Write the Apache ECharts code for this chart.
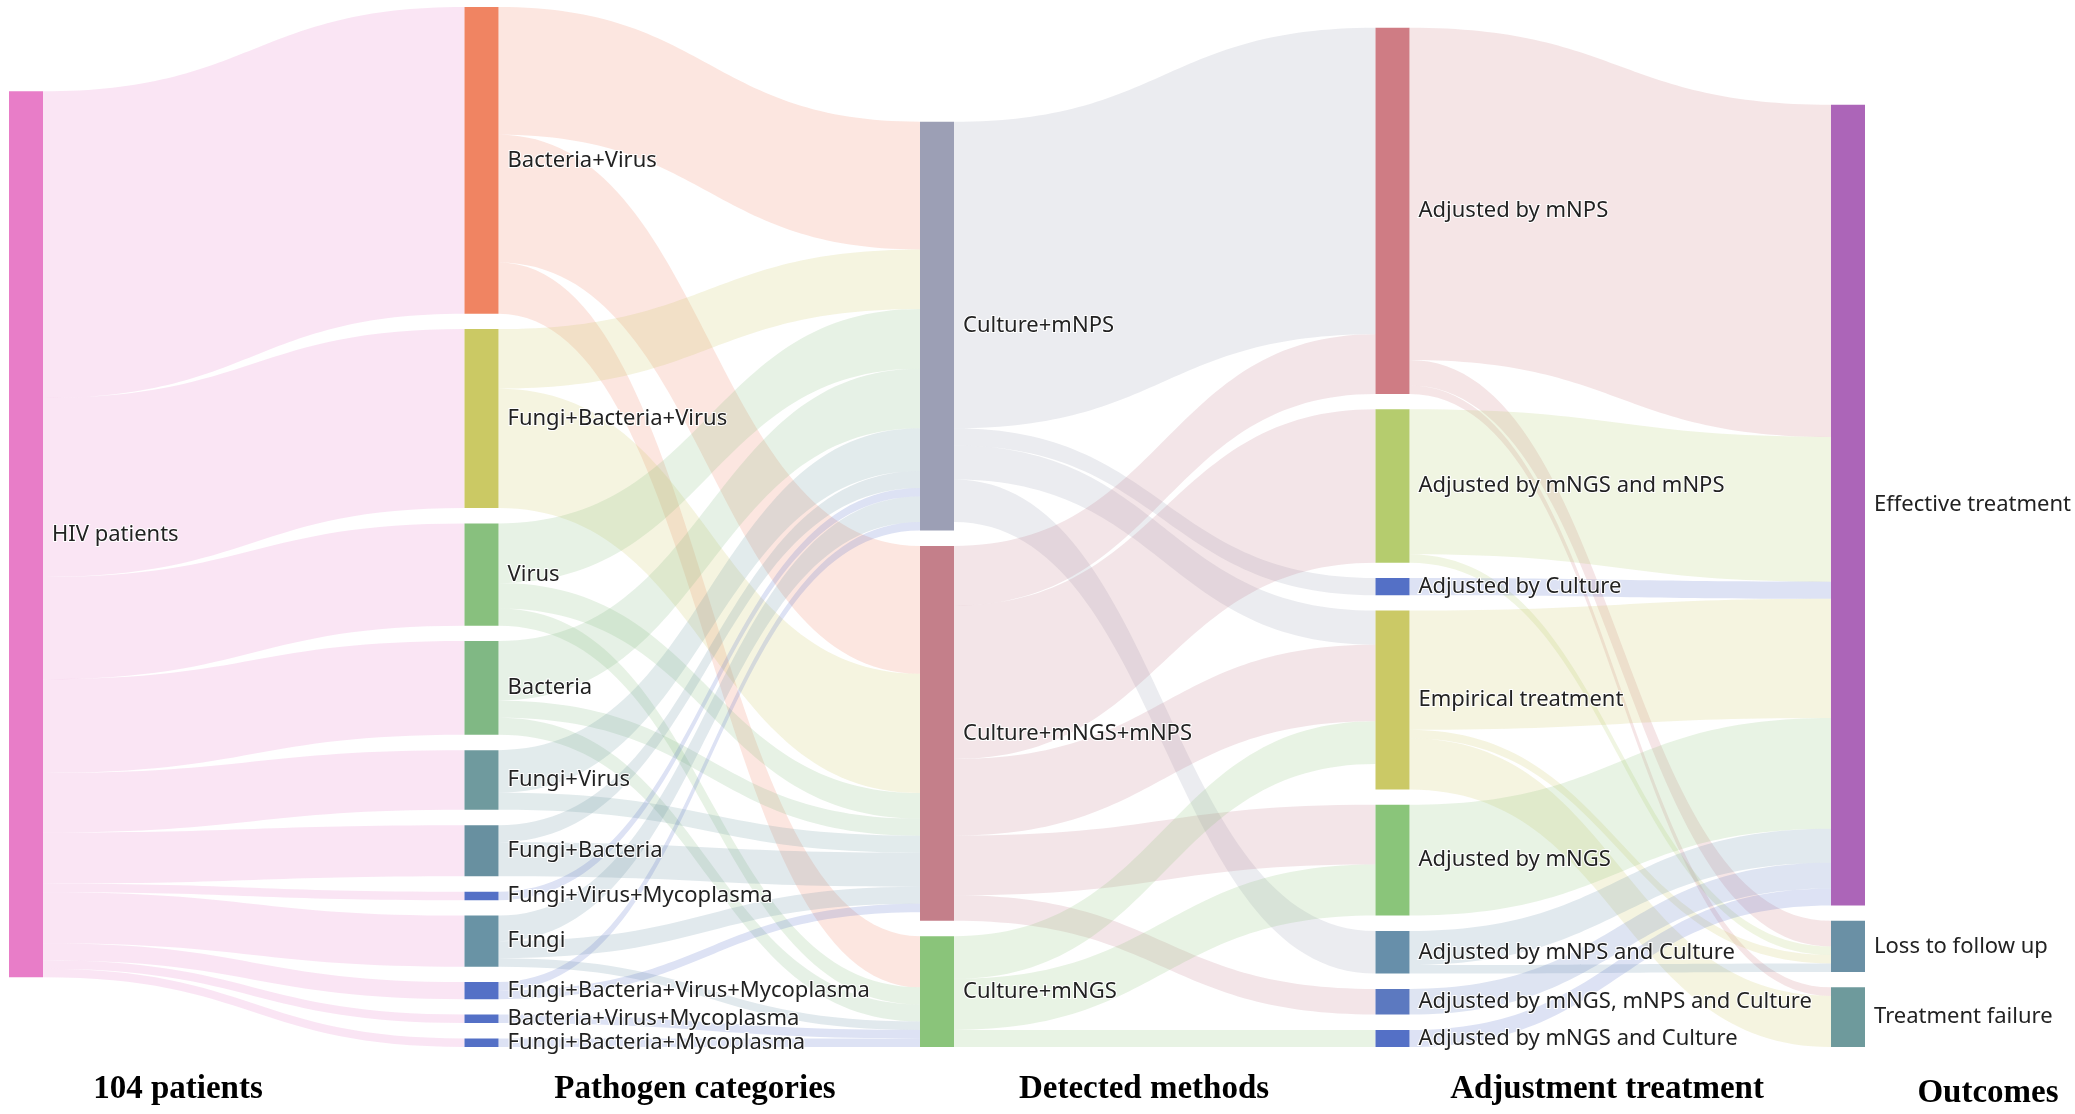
<!DOCTYPE html>
<html>
<head>
<meta charset="utf-8">
<title>104 patients sankey</title>
<script src="https://cdn.jsdelivr.net/npm/echarts@6.0.0/dist/echarts.min.js"></script>
<style>
  html, body { margin: 0; padding: 0; background: #fff; }
  #main { width: 2075px; height: 1114px; }
</style>
</head>
<body>
<div id="main"></div>
<script>
// nodes, column by column, in the order they are stacked
const nodeNames = [
  'HIV patients',
  'Bacteria+Virus', 'Fungi+Bacteria+Virus', 'Virus', 'Bacteria', 'Fungi+Virus',
  'Fungi+Bacteria', 'Fungi+Virus+Mycoplasma', 'Fungi',
  'Fungi+Bacteria+Virus+Mycoplasma', 'Bacteria+Virus+Mycoplasma', 'Fungi+Bacteria+Mycoplasma',
  'Culture+mNPS', 'Culture+mNGS+mNPS', 'Culture+mNGS',
  'Adjusted by mNPS', 'Adjusted by mNGS and mNPS', 'Adjusted by Culture', 'Empirical treatment',
  'Adjusted by mNGS', 'Adjusted by mNPS and Culture', 'Adjusted by mNGS, mNPS and Culture',
  'Adjusted by mNGS and Culture',
  'Effective treatment', 'Loss to follow up', 'Treatment failure'
];
const nodeColors = [
  '#e87dc8',
  '#f08462', '#cbc964', '#88c07e', '#80b884', '#6f9a9e',
  '#6890a0', '#5470c6', '#6993a5',
  '#5470c6', '#5470c6', '#5470c6',
  '#9c9fb5', '#c47f8a', '#8ac47a',
  '#cf7c84', '#b5cc6e', '#5470c6', '#cbc966',
  '#8ac57a', '#678faa', '#5c79c0',
  '#5470c6',
  '#ac65b8', '#6a90a5', '#6e9a9c'
];

// [source, target, patients]
const patientLinks = [
  ['HIV patients', 'Bacteria+Virus', 36],
  ['HIV patients', 'Fungi+Bacteria+Virus', 21],
  ['HIV patients', 'Virus', 12],
  ['HIV patients', 'Bacteria', 11],
  ['HIV patients', 'Fungi+Virus', 7],
  ['HIV patients', 'Fungi+Bacteria', 6],
  ['HIV patients', 'Fungi+Virus+Mycoplasma', 1],
  ['HIV patients', 'Fungi', 6],
  ['HIV patients', 'Fungi+Bacteria+Virus+Mycoplasma', 2],
  ['HIV patients', 'Bacteria+Virus+Mycoplasma', 1],
  ['HIV patients', 'Fungi+Bacteria+Mycoplasma', 1]
];
const pathogenLinks = [
  ['Bacteria+Virus', 'Culture+mNPS', 15],
  ['Bacteria+Virus', 'Culture+mNGS+mNPS', 15],
  ['Bacteria+Virus', 'Culture+mNGS', 6],
  ['Fungi+Bacteria+Virus', 'Culture+mNPS', 7],
  ['Fungi+Bacteria+Virus', 'Culture+mNGS+mNPS', 14],
  ['Virus', 'Culture+mNPS', 7],
  ['Virus', 'Culture+mNGS+mNPS', 3],
  ['Virus', 'Culture+mNGS', 2],
  ['Bacteria', 'Culture+mNPS', 7],
  ['Bacteria', 'Culture+mNGS+mNPS', 2],
  ['Bacteria', 'Culture+mNGS', 2],
  ['Fungi+Virus', 'Culture+mNPS', 5],
  ['Fungi+Virus', 'Culture+mNGS+mNPS', 2],
  ['Fungi+Bacteria', 'Culture+mNPS', 2],
  ['Fungi+Bacteria', 'Culture+mNGS+mNPS', 4],
  ['Fungi+Virus+Mycoplasma', 'Culture+mNPS', 1],
  ['Fungi', 'Culture+mNPS', 3],
  ['Fungi', 'Culture+mNGS+mNPS', 2],
  ['Fungi', 'Culture+mNGS', 1],
  ['Fungi+Bacteria+Virus+Mycoplasma', 'Culture+mNPS', 1],
  ['Fungi+Bacteria+Virus+Mycoplasma', 'Culture+mNGS+mNPS', 1],
  ['Bacteria+Virus+Mycoplasma', 'Culture+mNGS', 1],
  ['Fungi+Bacteria+Mycoplasma', 'Culture+mNGS', 1]
];
const methodLinks = [
  ['Culture+mNPS', 'Adjusted by mNPS', 36],
  ['Culture+mNPS', 'Adjusted by Culture', 2],
  ['Culture+mNPS', 'Empirical treatment', 4],
  ['Culture+mNPS', 'Adjusted by mNPS and Culture', 5],
  ['Culture+mNGS+mNPS', 'Adjusted by mNPS', 7],
  ['Culture+mNGS+mNPS', 'Adjusted by mNGS and mNPS', 18],
  ['Culture+mNGS+mNPS', 'Empirical treatment', 9],
  ['Culture+mNGS+mNPS', 'Adjusted by mNGS', 7],
  ['Culture+mNGS+mNPS', 'Adjusted by mNGS, mNPS and Culture', 3],
  ['Culture+mNGS', 'Empirical treatment', 5],
  ['Culture+mNGS', 'Adjusted by mNGS', 6],
  ['Culture+mNGS', 'Adjusted by mNGS and Culture', 2]
];
const outcomeLinks = [
  ['Adjusted by mNPS', 'Effective treatment', 39],
  ['Adjusted by mNPS', 'Loss to follow up', 3],
  ['Adjusted by mNPS', 'Treatment failure', 1],
  ['Adjusted by mNGS and mNPS', 'Effective treatment', 17],
  ['Adjusted by mNGS and mNPS', 'Loss to follow up', 1],
  ['Adjusted by Culture', 'Effective treatment', 2],
  ['Empirical treatment', 'Effective treatment', 14],
  ['Empirical treatment', 'Loss to follow up', 1],
  ['Empirical treatment', 'Treatment failure', 6],
  ['Adjusted by mNGS', 'Effective treatment', 13],
  ['Adjusted by mNPS and Culture', 'Effective treatment', 4],
  ['Adjusted by mNPS and Culture', 'Loss to follow up', 1],
  ['Adjusted by mNGS, mNPS and Culture', 'Effective treatment', 3],
  ['Adjusted by mNGS and Culture', 'Effective treatment', 2]
];

// column captions under the chart
const columnTitles = ['104 patients', 'Pathogen categories', 'Detected methods', 'Adjustment treatment', 'Outcomes'];
const titleX = [178, 695, 1144, 1607, 1988];
const titleY = [1089, 1089, 1089, 1089, 1093];

const chart = echarts.init(document.getElementById('main'));

const nodes = nodeNames.map(function (name, i) {
  return { name: name, itemStyle: { color: nodeColors[i] } };
});
const links = [].concat(patientLinks, pathogenLinks, methodLinks, outcomeLinks).map(function (l) {
  return { source: l[0], target: l[1], value: l[2] };
});

const captions = columnTitles.map(function (t, i) {
  return {
    type: 'text',
    x: titleX[i],
    y: titleY[i],
    silent: true,
    style: {
      text: t,
      align: 'center',
      verticalAlign: 'middle',
      textAlign: 'center',
      textVerticalAlign: 'middle',
      font: 'bold 33px "Liberation Serif", "Times New Roman", serif',
      fill: '#000'
    }
  };
});

chart.setOption({
  backgroundColor: '#fff',
  animation: false,
  graphic: captions,
  series: [{
    type: 'sankey',
    left: 9,
    top: 7,
    right: 210,
    bottom: 67,
    nodeWidth: 34,
    nodeGap: 15.4,
    layoutIterations: 32,
    draggable: false,
    emphasis: { disabled: true },
    itemStyle: { borderWidth: 0 },
    label: {
      position: 'right',
      distance: 9,
      fontFamily: '"Noto Sans", sans-serif',
      fontSize: 22,
      color: '#222',
      textBorderColor: '#fff',
      textBorderWidth: 2
    },
    lineStyle: { color: 'source', opacity: 0.2, curveness: 0.5 },
    data: nodes,
    links: links
  }]
});
</script>
</body>
</html>
